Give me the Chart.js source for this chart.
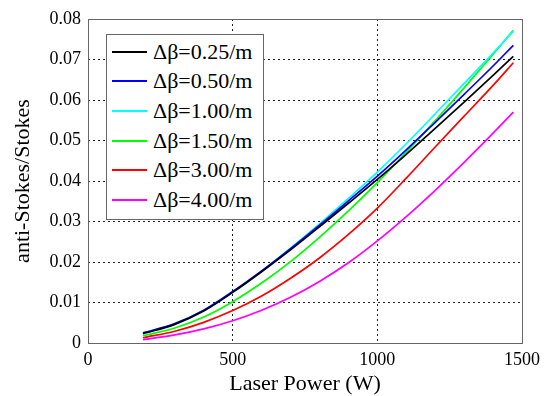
<!DOCTYPE html>
<html>
<head>
<meta charset="utf-8">
<script src="https://cdn.jsdelivr.net/npm/chart.js@4.4.1/dist/chart.umd.min.js"></script>
<style>
  body { margin: 0; background: #fff; }
  #wrap { position: relative; width: 551px; height: 396px; }
  #legend {
    position: absolute; left: 106px; top: 34px; width: 156px; height: 182px;
    border: 1px solid #666; background: #fff; padding: 2px 0 0 0;
    font-family: "Liberation Serif", serif; font-size: 22px; color: #000;
  }
  .row { height: 29.6px; display: flex; align-items: center; }
  .swatch { width: 35px; height: 2px; margin-left: 5px; margin-right: 6px; }
</style>
</head>
<body>
<div id="wrap">
  <canvas id="chart" width="551" height="396"></canvas>
  <div id="legend"></div>
</div>
<script>
const power = [190, 300, 400, 500, 600, 700, 800, 900, 1000, 1100, 1200, 1300, 1400, 1470];

const db025 = [0.0023, 0.0046, 0.0079, 0.0125, 0.0176, 0.0230, 0.0287, 0.0345, 0.0404, 0.0466, 0.0530, 0.0595, 0.0661, 0.0708];
const db050 = [0.0025, 0.0048, 0.0081, 0.0127, 0.0178, 0.0233, 0.0291, 0.0351, 0.0412, 0.0477, 0.0545, 0.0614, 0.0684, 0.0735];
const db100 = [0.0024, 0.0047, 0.0080, 0.0125, 0.0177, 0.0234, 0.0294, 0.0357, 0.0422, 0.0492, 0.0566, 0.0641, 0.0716, 0.0770];
const db150 = [0.0018, 0.0037, 0.0064, 0.0102, 0.0148, 0.0201, 0.0261, 0.0326, 0.0396, 0.0471, 0.0549, 0.0630, 0.0713, 0.0772];
const db300 = [0.0013, 0.0029, 0.0051, 0.0080, 0.0116, 0.0160, 0.0210, 0.0268, 0.0333, 0.0407, 0.0484, 0.0560, 0.0636, 0.0692];
const db400 = [0.0008, 0.0020, 0.0035, 0.0055, 0.0081, 0.0113, 0.0152, 0.0198, 0.0252, 0.0312, 0.0377, 0.0446, 0.0518, 0.0570];

const labels = ['Δβ=0.25/m', 'Δβ=0.50/m', 'Δβ=1.00/m', 'Δβ=1.50/m', 'Δβ=3.00/m', 'Δβ=4.00/m'];
const colors = ['#000000', '#0000ff', '#00ffff', '#00ff00', '#ff0000', '#ff00ff'];
const series = [db025, db050, db100, db150, db300, db400];

const xTicks = [0, 500, 1000, 1500];
const yTicks = [0, 0.01, 0.02, 0.03, 0.04, 0.05, 0.06, 0.07, 0.08];

function points(values) {
    return values.map(function (v, i) {
        return { x: power[i], y: v };
    });
}

const datasets = series.map(function (values, i) {
    return {
        label: labels[i],
        data: points(values),
        borderColor: colors[i],
        backgroundColor: colors[i],
        borderWidth: 1.7,
        pointRadius: 0,
        cubicInterpolationMode: 'monotone',
        fill: false
    };
});

// frame around the plot area, like a matlab box
const boxPlugin = {
    id: 'box',
    afterDraw: function (chart) {
        const a = chart.chartArea;
        const ctx = chart.ctx;
        ctx.save();
        ctx.strokeStyle = '#666';
        ctx.lineWidth = 1;
        ctx.strokeRect(Math.round(a.left) + 0.5, Math.round(a.top) + 0.5,
            Math.round(a.right - a.left), Math.round(a.bottom - a.top));
        ctx.restore();
    }
};

const tickFont = { family: 'Liberation Serif', size: 18 };

new Chart(document.getElementById('chart'), {
    type: 'line',
    data: { datasets: datasets },
    plugins: [boxPlugin],
    options: {
        responsive: false,
        animation: false,
        devicePixelRatio: 1,
        layout: { padding: { left: 0, top: 19, right: 29, bottom: 0 } },
        plugins: { legend: { display: false }, tooltip: { enabled: false } },
        scales: {
            x: {
                type: 'linear',
                min: 0,
                max: 1500,
                afterFit: function (s) { s.height = 53; },
                afterBuildTicks: function (s) { s.ticks = xTicks.map(function (v) { return { value: v }; }); },
                ticks: {
                    color: '#000',
                    font: tickFont,
                    padding: 6,
                    maxRotation: 0,
                    callback: function (v) { return String(v); }
                },
                grid: { color: '#222', lineWidth: 1, drawTicks: false },
                border: { display: false, dash: [2, 3] },
                title: {
                    display: true,
                    text: 'Laser Power (W)',
                    color: '#000',
                    font: { family: 'Liberation Serif', size: 22, lineHeight: 1 },
                    padding: { top: 0, bottom: 1 }
                }
            },
            y: {
                min: 0,
                max: 0.08,
                afterFit: function (s) { s.width = 88; },
                afterBuildTicks: function (s) { s.ticks = yTicks.map(function (v) { return { value: v }; }); },
                ticks: {
                    color: '#000',
                    font: tickFont,
                    padding: 7,
                    callback: function (v) { return v === 0 ? '0' : v.toFixed(2); }
                },
                grid: { color: '#222', lineWidth: 1, drawTicks: false },
                border: { display: false, dash: [2, 3] },
                title: {
                    display: true,
                    text: 'anti-Stokes/Stokes',
                    color: '#000',
                    font: { family: 'Liberation Serif', size: 22, lineHeight: 1 },
                    padding: { top: 12, bottom: 0 }
                }
            }
        }
    }
});

// legend box inside the plot, built from the same labels and colours
const legend = document.getElementById('legend');
labels.forEach(function (name, i) {
    const row = document.createElement('div');
    row.className = 'row';
    const line = document.createElement('span');
    line.className = 'swatch';
    line.style.background = colors[i];
    const text = document.createElement('span');
    text.innerText = name;
    row.appendChild(line);
    row.appendChild(text);
    legend.appendChild(row);
});
</script>
</body>
</html>
